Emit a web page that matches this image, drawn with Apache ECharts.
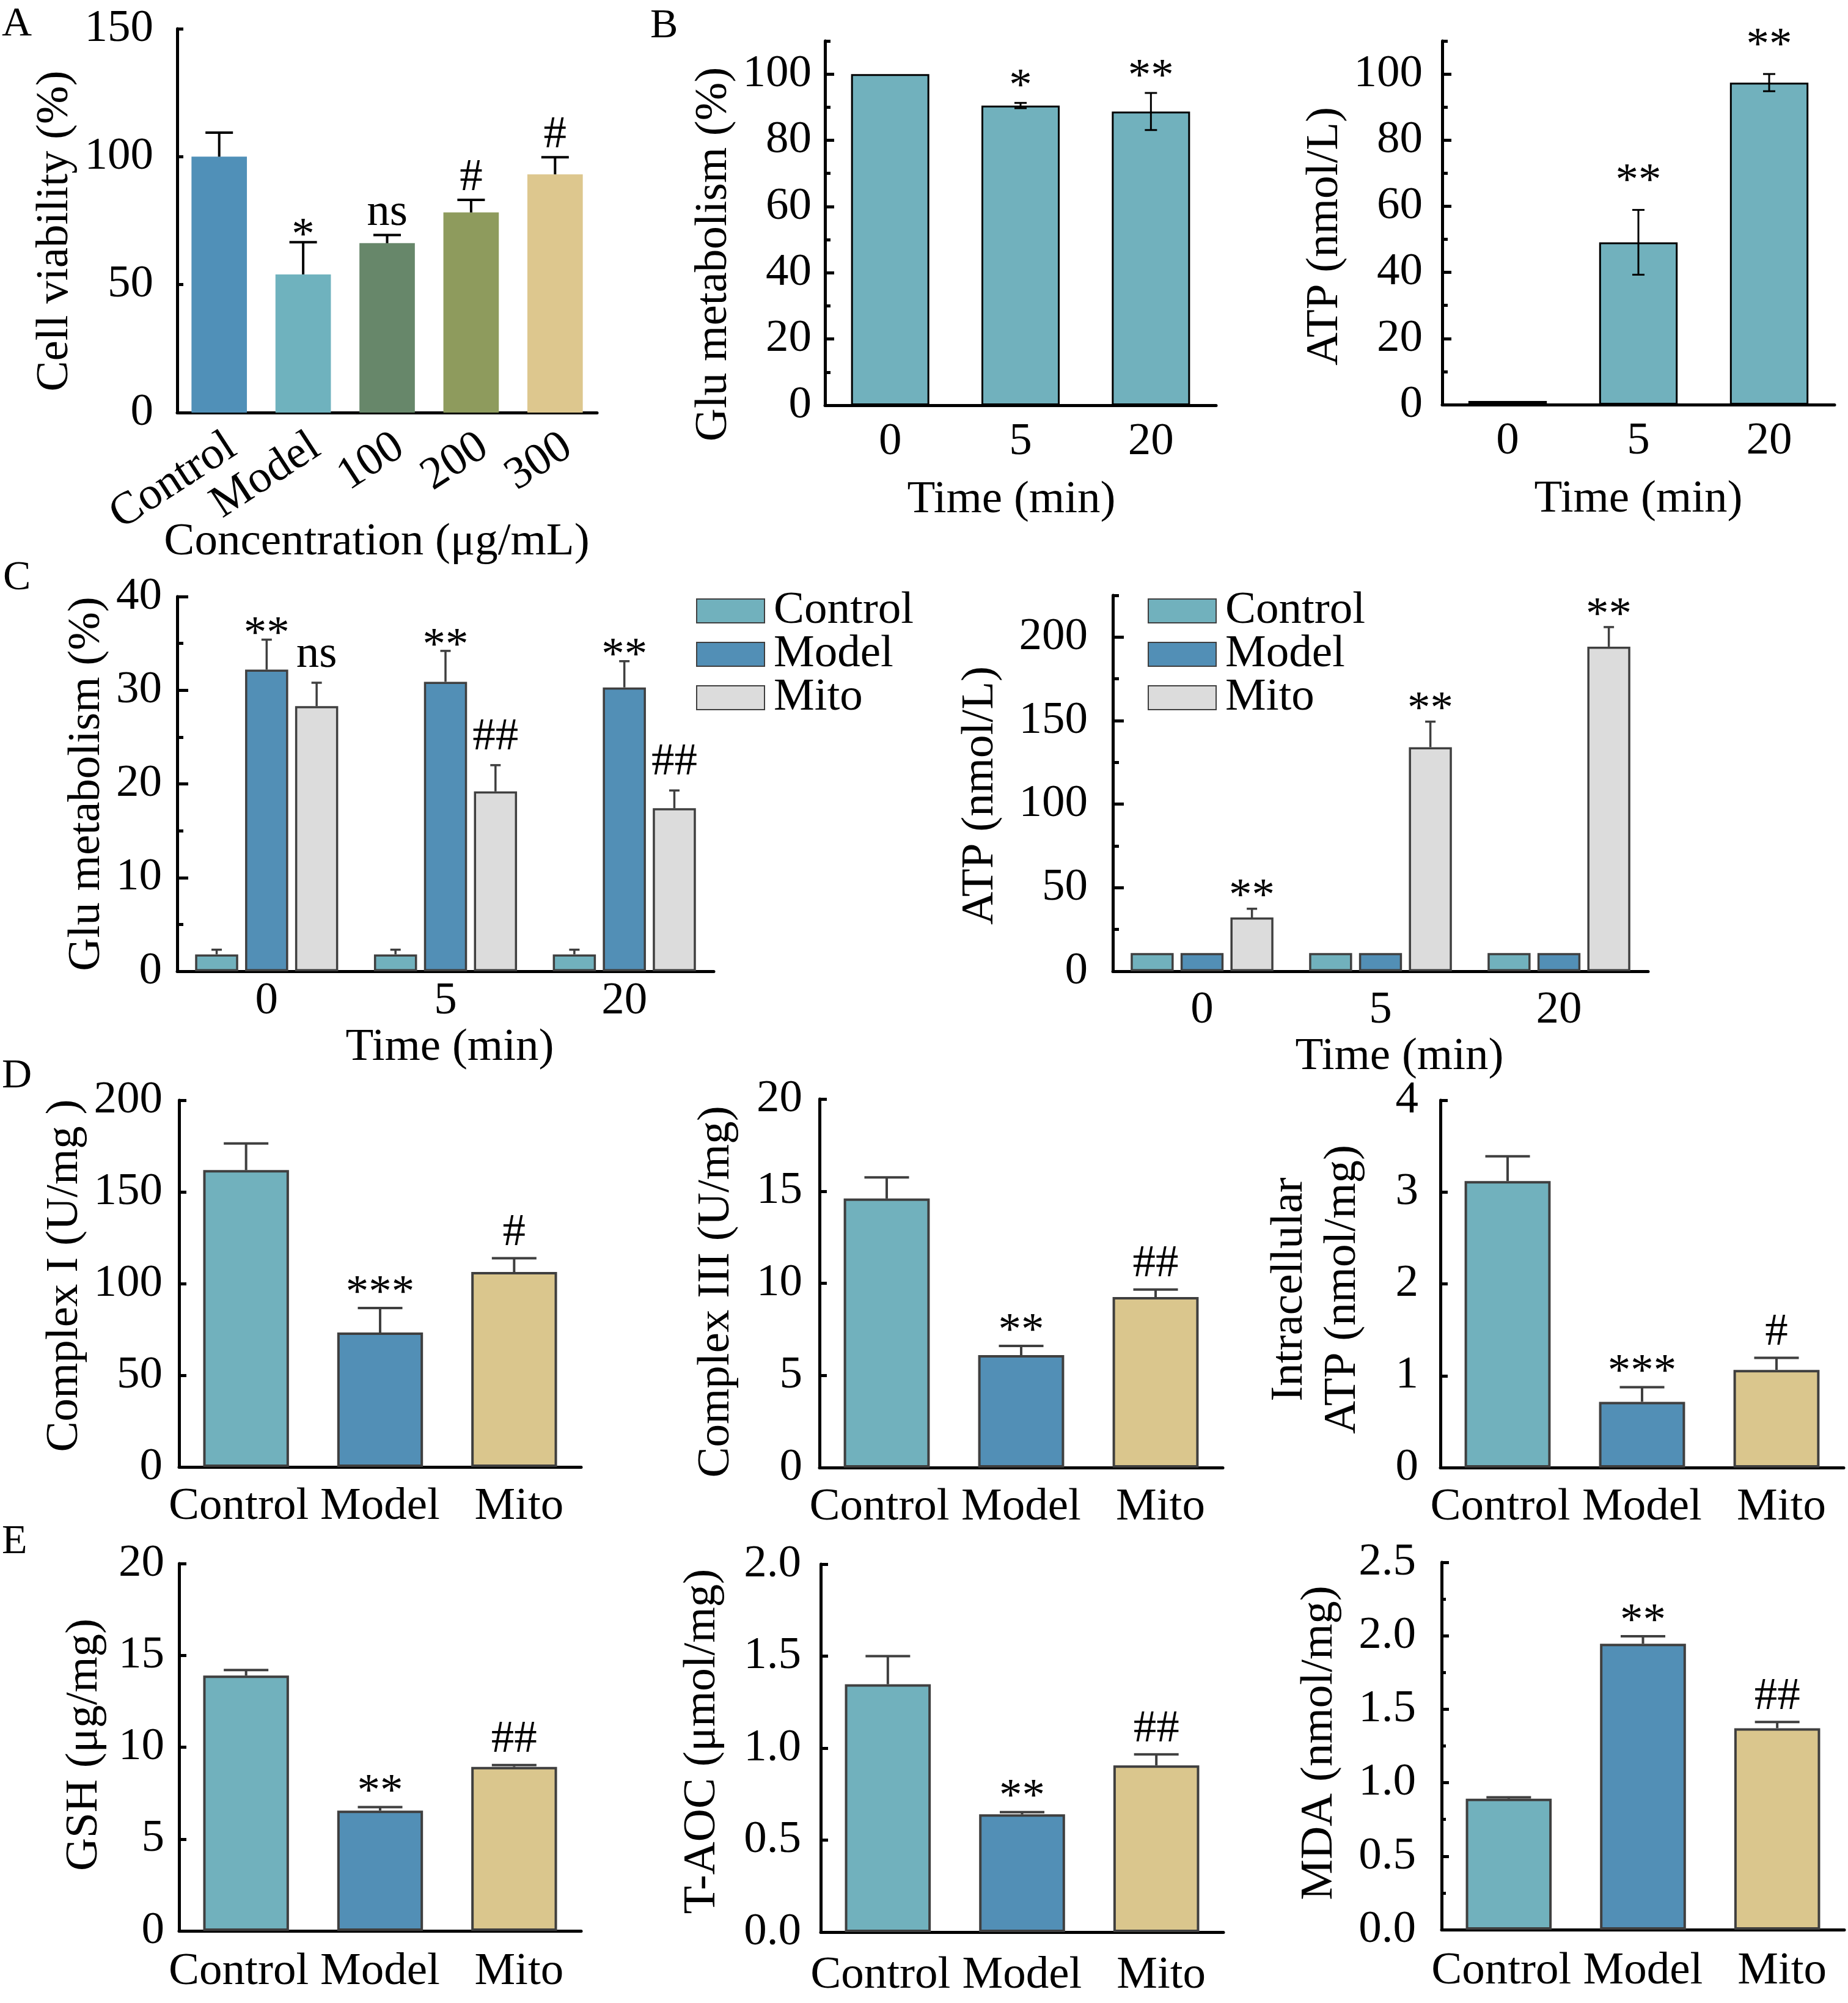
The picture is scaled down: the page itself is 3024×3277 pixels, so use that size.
<!DOCTYPE html>
<html lang="en">
<head>
  <meta charset="UTF-8">
  <title>Mito figure</title>
  <style>html,body{margin:0;padding:0;background:#fff}</style>
</head>
<body>
  <div id="fig" style="width:3024px;height:3277px;"></div>
  <script src="https://cdn.jsdelivr.net/npm/echarts/dist/echarts.min.js"></script>
  <script>
    // ---------- values ----------
    var concLabels = ['Control', 'Model', '100', '200', '300'];
    var timeLabels = ['0', '5', '20'];
    var groupLabels = ['Control', 'Model', 'Mito'];

    // A  cell viability
    var viability = [100, 54.0, 66.2, 78.2, 93.1];
    var viabilityErr = [9.4, 12.6, 3.2, 4.9, 6.7];
    var viabilitySig = ['', '*', 'ns', '#', '#'];
    var viabilityTicks = [0, 50, 100, 150];

    // B  time course
    var gluTime = [100, 90.5, 88.7];
    var gluTimeErr = [0, 0.8, 5.6];
    var gluTimeSig = ['', '*', '**'];
    var atpTime = [1.1, 49.1, 97.4];
    var atpTimeErr = [0, 9.8, 2.6];
    var atpTimeSig = ['', '**', '**'];
    var pctTicks = [0, 20, 40, 60, 80, 100];
    var pctMinor = [10, 30, 50, 70, 90, 110];

    // C  grouped time course
    var gluControl = [1.8, 1.8, 1.8];
    var gluControlErr = [0.5, 0.5, 0.5];
    var gluModel = [32.2, 30.9, 30.3];
    var gluModelErr = [3.2, 3.3, 2.8];
    var gluModelSig = ['**', '**', '**'];
    var gluMito = [28.3, 19.2, 17.4];
    var gluMitoErr = [2.5, 2.8, 1.9];
    var gluMitoSig = ['ns', '##', '##'];
    var gluTicks = [0, 10, 20, 30, 40];
    var gluMinor = [5, 15, 25, 35];
    var atpControl = [10.9, 10.9, 10.9];
    var atpModel = [10.9, 10.9, 10.9];
    var atpMito = [32.2, 134.1, 194.3];
    var atpMitoErr = [5.2, 15.3, 11.7];
    var atpMitoSig = ['**', '**', '**'];
    var atpTicks = [0, 50, 100, 150, 200];
    var atpMinor = [25, 75, 125, 175, 225];

    // D  complexes and intracellular ATP
    var complexI = [161.9, 73.3, 106.3];
    var complexIErr = [14.5, 13.4, 7.5];
    var complexISig = ['', '***', '#'];
    var complexITicks = [0, 50, 100, 150, 200];
    var complexIII = [14.6, 6.1, 9.25];
    var complexIIIErr = [1.15, 0.5, 0.41];
    var complexIIISig = ['', '**', '##'];
    var complexIIITicks = [0, 5, 10, 15, 20];
    var intraAtp = [3.12, 0.716, 1.064];
    var intraAtpErr = [0.27, 0.16, 0.13];
    var intraAtpSig = ['', '***', '#'];
    var intraAtpTicks = [0, 1, 2, 3, 4];

    // E  oxidative stress
    var gsh = [13.9, 6.55, 8.93];
    var gshErr = [0.3, 0.19, 0.1];
    var gshSig = ['', '**', '##'];
    var gshTicks = [0, 5, 10, 15, 20];
    var taoc = [1.347, 0.64, 0.906];
    var taocErr = [0.153, 0.012, 0.06];
    var taocSig = ['', '**', '##'];
    var taocTicks = [0, 0.5, 1, 1.5, 2];
    var mda = [0.891, 1.946, 1.371];
    var mdaErr = [0.01, 0.051, 0.042];
    var mdaSig = ['', '**', '##'];
    var mdaTicks = [0, 0.5, 1, 1.5, 2, 2.5];
    var mdaMinor = [0.25, 0.75, 1.25, 1.75, 2.25];

    // ---------- styles ----------
    var FONT = '"Liberation Serif", "Times New Roman", serif';
    var FS = 75;
    var TEAL = '#71b1bd', BLUE = '#528fb6', TAN = '#dac68d', GREY = '#dcdcdc';
    var EDGE = '#3f3f3f';
    var concColors = ['#5090b8', '#6fb2be', '#67876a', '#8e9b5d', '#ddc78e'];
    var groupColors = [TEAL, BLUE, TAN];
    var groupLabelPad = [[0, 24, 0, 0], 0, [0, 0, 0, 16]];  // D/E labels sit a bit spread out
    var C_GAP = 0.16;   // gap between bars of a group, share of bar width

    var layout = {
      A:  { left: 290,  top: 47,   width: 687, height: 628 },
      B1: { left: 1350, top: 67,   width: 640, height: 596 },
      B2: { left: 2360, top: 67,   width: 642, height: 595 },
      C1: { left: 290,  top: 976,  width: 878, height: 613 },
      C2: { left: 1821, top: 974,  width: 876, height: 615 },
      D1: { left: 293,  top: 1800, width: 658, height: 600 },
      D2: { left: 1341, top: 1798, width: 660, height: 603 },
      D3: { left: 2357, top: 1800, width: 660, height: 601 },
      E1: { left: 293,  top: 2558, width: 658, height: 601 },
      E2: { left: 1343, top: 2559, width: 659, height: 602 },
      E3: { left: 2359, top: 2556, width: 659, height: 601 }
    };

    var option = {
      backgroundColor: '#fff',
      animation: false,
      grid: [], xAxis: [], yAxis: [], series: [], legend: [], graphic: []
    };

    function txt(extra) {
      return Object.assign({ fontFamily: FONT, fontSize: FS, color: '#000' }, extra || {});
    }

    // shift > 0 moves a rotated y name down the page
    function namePad(shift) {
      if (!shift) return 0;
      return shift > 0 ? [0, 2 * shift, 0, 0] : [0, 0, 0, -2 * shift];
    }

    // error bar (+ optional significance mark) drawn above a bar
    function errorBars(sig, o) {
      return function (params, api) {
        var idx = api.value(0), val = api.value(1), err = api.value(2);
        var base = api.coord([idx, val]);
        var band = api.size([1, 0])[0];
        var x = base[0] + (o.shift ? o.shift(band) : 0);
        var yTop = api.coord([idx, val + err])[1];
        var yLow = o.both ? api.coord([idx, val - err])[1] : base[1];
        var st = { stroke: o.color, lineWidth: o.width };
        var kids = [];
        if (err > 0) {
          kids.push({ type: 'line', shape: { x1: x, y1: yTop, x2: x, y2: yLow }, style: st });
          kids.push({ type: 'line', shape: { x1: x - o.cap / 2, y1: yTop, x2: x + o.cap / 2, y2: yTop }, style: st });
          if (o.both) {
            kids.push({ type: 'line', shape: { x1: x - o.cap / 2, y1: yLow, x2: x + o.cap / 2, y2: yLow }, style: st });
          }
        }
        var t = sig ? sig[params.dataIndex] : '';
        if (t) {
          var y = t.indexOf('*') >= 0 ? yTop - o.starGap - 5 : yTop - o.hashGap - 25;
          kids.push({
            type: 'text',
            style: { text: t, x: x, y: y, align: 'center', verticalAlign: 'middle',
              fontSize: FS, fontFamily: FONT, fill: '#000' }
          });
        }
        return { type: 'group', children: kids };
      };
    }

    function catData(cats, pads) {
      if (!pads) return cats;
      return cats.map(function (c, i) {
        return pads[i] ? { value: c, textStyle: { padding: pads[i] } } : c;
      });
    }

    function addPanel(p) {
      var gi = option.grid.length;
      var xi = option.xAxis.length;
      var yi = option.yAxis.length;
      var rect = layout[p.key];
      option.grid.push(Object.assign({ containLabel: false }, rect));
      option.xAxis.push({
        type: 'category', gridIndex: gi, data: catData(p.cats, p.catPad),
        axisLine: { lineStyle: { color: '#000', width: 5 } },
        axisTick: { show: false },
        axisLabel: txt({ show: !p.labelShift, margin: p.xMargin, rotate: p.rotate || 0, interval: 0 }),
        name: p.xName || '', nameLocation: 'middle', nameGap: p.xNameGap || 0,
        nameTextStyle: txt({ padding: p.xNamePad || 0 })
      });
      var ticks = p.ticks;
      option.yAxis.push({
        type: 'value', gridIndex: gi, min: ticks[0], max: p.max,
        interval: ticks[1] - ticks[0],
        axisLine: { show: true, lineStyle: { color: '#000', width: 5 } },
        axisTick: { show: true, inside: true, length: p.tickLen, customValues: ticks,
          lineStyle: { color: '#000', width: 5 } },
        axisLabel: txt({ margin: p.yMargin, customValues: ticks, formatter: p.fmt }),
        splitLine: { show: false },
        name: p.yName, nameLocation: 'middle', nameRotate: 90, nameGap: p.yNameGap,
        nameTextStyle: txt({ padding: namePad(p.yShift), lineHeight: 87 })
      });

      p.bars.forEach(function (b) {
        option.series.push({
          type: 'bar', name: b.name, xAxisIndex: xi, yAxisIndex: yi,
          barCategoryGap: p.catGap, barGap: p.barGap || '30%',
          itemStyle: Object.assign({ color: b.color }, p.edge),
          data: b.values.map(function (v, i) {
            return b.colors ? { value: v, itemStyle: { color: b.colors[i] } } : v;
          }),
          z: 2
        });
        if (b.err || b.sig) {
          var o = Object.assign({}, p.err, { shift: b.shift });
          option.series.push({
            type: 'custom', xAxisIndex: xi, yAxisIndex: yi, silent: true, z: 5,
            encode: { x: 0, y: 1 },
            renderItem: errorBars(b.sig, o),
            data: b.values.map(function (v, i) { return [i, v, b.err ? b.err[i] : 0]; })
          });
        }
      });

      // minor ticks on an overlaid twin grid
      if (p.minor) {
        var gj = option.grid.length;
        option.grid.push(Object.assign({ containLabel: false }, rect));
        option.xAxis.push({ type: 'category', gridIndex: gj, data: p.cats, show: false });
        option.yAxis.push({
          type: 'value', gridIndex: gj, min: ticks[0], max: p.max,
          interval: ticks[1] - ticks[0],
          axisLine: { show: false },
          axisTick: { show: true, inside: true, length: p.minorLen, customValues: p.minor,
            lineStyle: { color: '#000', width: 5 } },
          axisLabel: { show: false },
          splitLine: { show: false }
        });
      }

      // slanted category labels sit right of the bar centres: draw them on a shifted twin axis
      if (p.labelShift) {
        var gk = option.grid.length;
        option.grid.push({ containLabel: false, left: rect.left + p.labelShift, top: rect.top,
          width: rect.width, height: rect.height });
        option.xAxis.push({
          type: 'category', gridIndex: gk, data: p.cats,
          axisLine: { show: false }, axisTick: { show: false },
          axisLabel: txt({ margin: p.xMargin, rotate: p.rotate, interval: 0 })
        });
        option.yAxis.push({ type: 'value', gridIndex: gk, show: false });
      }
    }

    // shift of bar i inside a group of three (C panels)
    function groupShift(i) {
      return function (band) {
        var bw = band * 0.8 / (3 + 2 * C_GAP);
        return (i - 1) * bw * (1 + C_GAP);
      };
    }

    var solidEdge = { borderColor: EDGE, borderWidth: 4 };
    var blackEdge = { borderColor: '#000', borderWidth: 3 };

    // A
    addPanel({
      key: 'A', cats: concLabels, ticks: viabilityTicks, max: 150,
      tickLen: 10, xMargin: 50, rotate: 33, labelShift: 21, yMargin: 39,
      yName: 'Cell viability (%)', yNameGap: 156, yShift: 17,
      xName: 'Concentration (\u03bcg/mL)', xNameGap: 175, xNamePad: [0, 34, 0, 0],
      catGap: '34%', edge: {},
      err: { color: '#000', width: 4, cap: 45, both: false, starGap: 4, hashGap: 11 },
      bars: [{ name: 'viability', values: viability, colors: concColors, err: viabilityErr, sig: viabilitySig }]
    });

    // B
    addPanel({
      key: 'B1', cats: timeLabels, ticks: pctTicks, minor: pctMinor, max: 110,
      tickLen: 15, minorLen: 9, xMargin: 23, yMargin: 22,
      yName: 'Glu metabolism (%)', yNameGap: 138, yShift: 51,
      xName: 'Time (min)', xNameGap: 118, xNamePad: [0, 30, 0, 0],
      catGap: '40%', edge: blackEdge,
      err: { color: '#000', width: 3, cap: 20, both: true, starGap: 20, hashGap: 16 },
      bars: [{ name: 'gluTime', values: gluTime, color: TEAL, err: gluTimeErr, sig: gluTimeSig }]
    });
    addPanel({
      key: 'B2', cats: timeLabels, ticks: pctTicks, minor: pctMinor, max: 110,
      tickLen: 15, minorLen: 9, xMargin: 23, yMargin: 32,
      yName: 'ATP (nmol/L)', yNameGap: 145, yShift: 22,
      xName: 'Time (min)', xNameGap: 118,
      catGap: '40%', edge: blackEdge,
      err: { color: '#000', width: 3, cap: 20, both: true, starGap: 40, hashGap: 16 },
      bars: [{ name: 'atpTime', values: atpTime, color: TEAL, err: atpTimeErr, sig: atpTimeSig }]
    });

    // C
    var cErr = { color: EDGE, width: 3.5, cap: 17, both: false, starGap: 2, hashGap: 21 };
    var cEdge = { borderColor: EDGE, borderWidth: 3.5 };
    addPanel({
      key: 'C1', cats: timeLabels, ticks: gluTicks, minor: gluMinor, max: 40,
      tickLen: 18, minorLen: 10, xMargin: 12, yMargin: 25,
      yName: 'Glu metabolism (%)', yNameGap: 103, yShift: 0,
      xName: 'Time (min)', xNameGap: 72, xNamePad: [0, 0, 0, 14],
      catGap: '20%', barGap: (C_GAP * 100) + '%', edge: cEdge,
      err: cErr,
      bars: [
        { name: 'Control', values: gluControl, color: TEAL, err: gluControlErr, shift: groupShift(0) },
        { name: 'Model', values: gluModel, color: BLUE, err: gluModelErr, sig: gluModelSig, shift: groupShift(1) },
        { name: 'Mito', values: gluMito, color: GREY, err: gluMitoErr, sig: gluMitoSig, shift: groupShift(2) }
      ]
    });
    addPanel({
      key: 'C2', cats: timeLabels, ticks: atpTicks, minor: atpMinor, max: 225,
      tickLen: 18, minorLen: 10, xMargin: 27, yMargin: 41,
      yName: 'ATP (nmol/L)', yNameGap: 173, yShift: 20,
      xName: 'Time (min)', xNameGap: 88, xNamePad: [0, 0, 0, 62],
      catGap: '20%', barGap: (C_GAP * 100) + '%', edge: cEdge,
      err: Object.assign({}, cErr, { starGap: 13 }),
      bars: [
        { name: 'Control', values: atpControl, color: TEAL },
        { name: 'Model', values: atpModel, color: BLUE },
        { name: 'Mito', values: atpMito, color: GREY, err: atpMitoErr, sig: atpMitoSig, shift: groupShift(2) }
      ]
    });

    // D and E share one look
    var dErr = { color: EDGE, width: 4, cap: 73, both: false, starGap: 18, hashGap: 16 };
    function simple(key, ticks, yName, gap, shift, yMargin, xMargin, vals, err, sig, extra) {
      addPanel(Object.assign({
        key: key, cats: groupLabels, catPad: groupLabelPad, ticks: ticks, max: ticks[ticks.length - 1],
        tickLen: 12, xMargin: xMargin, yMargin: yMargin,
        yName: yName, yNameGap: gap, yShift: shift,
        catGap: '36%', edge: solidEdge, err: dErr,
        bars: [{ name: key, values: vals, colors: groupColors, err: err, sig: sig }]
      }, extra || {}));
    }
    simple('D1', complexITicks, 'Complex I (U/mg )', 141, -13, 27, 28, complexI, complexIErr, complexISig);
    simple('D2', complexIIITicks, 'Complex III (U/mg)', 125, 14, 28, 28, complexIII, complexIIIErr, complexIIISig);
    simple('D3', intraAtpTicks, 'Intracellular\nATP (nmol/mg)', 116, 9, 36, 28, intraAtp, intraAtpErr, intraAtpSig);
    simple('E1', gshTicks, 'GSH (\u03bcg/mg)', 111, -4, 24, 30, gsh, gshErr, gshSig);
    simple('E2', taocTicks, 'T-AOC (\u03bcmol/mg)', 150, -11, 32, 34, taoc, taocErr, taocSig,
      { fmt: function (v) { return v.toFixed(1); } });
    simple('E3', mdaTicks, 'MDA (nmol/mg)', 156, -5, 42, 31, mda, mdaErr, mdaSig,
      { fmt: function (v) { return v.toFixed(1); }, minor: mdaMinor, minorLen: 7 });

    // legends of panel C
    [1134, 1873].forEach(function (x) {
      option.legend.push({
        data: groupLabels, left: x, top: 957, orient: 'vertical',
        itemWidth: 111, itemHeight: 39, itemGap: -4, icon: 'rect', selectedMode: false,
        textStyle: txt({ padding: [0, 0, 0, 10] })
      });
    });

    // panel letters
    [['A', 3, 40], ['B', 1064, 43], ['C', 5, 946], ['D', 3, 1761], ['E', 3, 2523]].forEach(function (l) {
      option.graphic.push({
        type: 'text', x: l[1], y: l[2],
        style: { text: l[0], fontSize: 68, fontFamily: FONT, fill: '#000', verticalAlign: 'middle' }
      });
    });

    var chart = echarts.init(document.getElementById('fig'), null, { renderer: 'canvas' });
    chart.setOption(option);
  </script>
</body>
</html>
